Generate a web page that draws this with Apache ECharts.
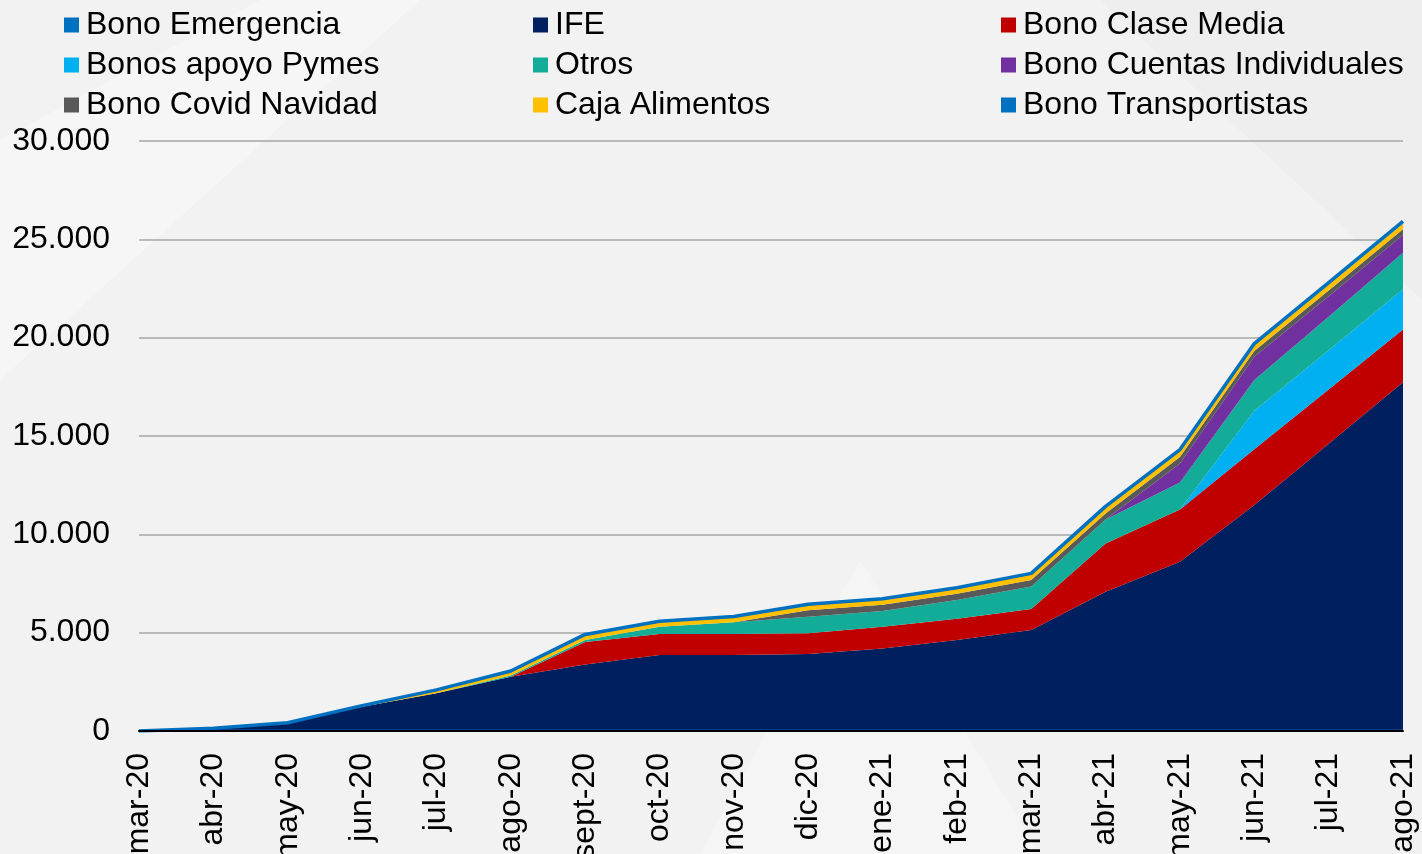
<!DOCTYPE html>
<html>
<head>
<meta charset="utf-8">
<script src="https://cdn.jsdelivr.net/npm/echarts@6/dist/echarts.min.js"></script>
<style>
  html, body { margin: 0; padding: 0; background: #f2f2f2; }
  #chart { width: 1422px; height: 854px; }
</style>
</head>
<body>
<div id="chart"></div>
<script>
// Gasto acumulado en ayudas COVID (millones US$), por mes
const months = ['mar-20','abr-20','may-20','jun-20','jul-20','ago-20','sept-20','oct-20','nov-20','dic-20',
                'ene-21','feb-21','mar-21','abr-21','may-21','jun-21','jul-21','ago-21'];

const bonoEmergencia     = [0, 60, 60, 60, 60, 60, 60, 60, 60, 60, 60, 60, 60, 60, 60, 60, 60, 60];
const ife                = [0, 80, 360, 1170, 1860, 2700, 3320, 3800, 3800, 3855, 4140, 4570, 5075, 7020, 8550, 11430, 14540, 17670];
const bonoClaseMedia     = [0, 0, 0, 0, 0, 0, 1150, 1070, 1070, 1060, 1100, 1080, 1070, 2460, 2650, 2830, 2760, 2690];
const bonosApoyoPymes    = [0, 0, 0, 0, 0, 0, 0, 0, 0, 0, 0, 0, 0, 0, 0, 1970, 2000, 2040];
const otros              = [0, 0, 0, 0, 0, 60, 100, 370, 600, 840, 800, 950, 1140, 1220, 1380, 1560, 1700, 1860];
const bonoCuentasInd     = [0, 0, 0, 0, 0, 0, 0, 0, 0, 0, 0, 0, 0, 0, 960, 1180, 1050, 900];
const bonoCovidNavidad   = [0, 0, 0, 0, 0, 0, 0, 0, 0, 330, 320, 320, 330, 300, 330, 290, 290, 290];
const cajaAlimentos      = [0, 0, 0, 60, 170, 230, 280, 280, 290, 300, 300, 300, 300, 300, 300, 300, 300, 300];
const bonoTransportistas = [0, 0, 0, 0, 0, 0, 0, 0, 0, 0, 0, 0, 40, 60, 80, 80, 100, 100];

const yTicks = { min: 0, max: 30000, interval: 5000 };

const FONT = 'Liberation Sans, Arial, sans-serif';
const FS = 32;

const layers = [
  { name: 'Bono Emergencia',            data: bonoEmergencia,     color: '#0070C0' },
  { name: 'IFE',                        data: ife,                color: '#001F5F' },
  { name: 'Bono Clase Media',           data: bonoClaseMedia,     color: '#C00000' },
  { name: 'Bonos apoyo Pymes',          data: bonosApoyoPymes,    color: '#00B0F0' },
  { name: 'Otros',                      data: otros,              color: '#12AC98' },
  { name: 'Bono Cuentas Individuales',  data: bonoCuentasInd,     color: '#7030A0' },
  { name: 'Bono Covid Navidad',         data: bonoCovidNavidad,   color: '#595959' },
  { name: 'Caja Alimentos',             data: cajaAlimentos,      color: '#FFC000' },
  { name: 'Bono Transportistas',        data: bonoTransportistas, color: '#0070C0' }
];

const series = layers.map((l, i) => ({
  name: l.name,
  type: 'line',
  stack: 'total',
  data: l.data,
  symbol: 'none',
  color: l.color,
  itemStyle: { color: l.color },
  areaStyle: { color: l.color, opacity: 1 },
  lineStyle: i === layers.length - 1
    ? { width: 3.5, color: l.color }
    : (i === 0 ? { width: 1, color: l.color } : { width: 0 }),
  emphasis: { disabled: true },
  z: 2 + i
}));

const legendText = { fontFamily: FONT, fontSize: FS, color: '#000', lineHeight: 32, padding: [0, 0, 0, 2] };
function legendCol(left, names) {
  return {
    orient: 'vertical', left: left, top: 9,
    data: names, icon: 'rect', itemWidth: 15, itemHeight: 15, itemGap: 8,
    textStyle: legendText, selectedMode: false, padding: 0
  };
}

const chart = echarts.init(document.getElementById('chart'), null, { renderer: 'canvas' });
chart.setOption({
  backgroundColor: '#f2f2f2',
  animation: false,
  graphic: [
    { type: 'polygon', silent: true, z: -10,
      shape: { points: [[0, 140], [260, 0], [420, 0], [0, 380]] },
      style: { fill: 'rgba(255,255,255,0.3)' } },
    { type: 'polygon', silent: true, z: -10,
      shape: { points: [[700, 854], [860, 560], [1040, 854]] },
      style: { fill: 'rgba(255,255,255,0.25)' } },
    { type: 'polygon', silent: true, z: -10,
      shape: { points: [[1100, 0], [1422, 0], [1422, 300]] },
      style: { fill: 'rgba(230,230,230,0.3)' } }
  ],
  legend: [
    legendCol(64,   ['Bono Emergencia', 'Bonos apoyo Pymes', 'Bono Covid Navidad']),
    legendCol(533,  ['IFE', 'Otros', 'Caja Alimentos']),
    legendCol(1001, ['Bono Clase Media', 'Bono Cuentas Individuales', 'Bono Transportistas'])
  ],
  grid: { left: 139, right: 19, top: 141, bottom: 123, containLabel: false, outerBoundsMode: 'none' },
  xAxis: {
    type: 'category',
    data: months,
    boundaryGap: false,
    axisLine: { show: true, lineStyle: { color: '#000', width: 2 } },
    axisTick: { show: false },
    axisLabel: {
      rotate: 90, interval: 0, margin: 22,
      fontFamily: FONT, fontSize: FS, color: '#000'
    },
    splitLine: { show: false },
    z: 20
  },
  yAxis: {
    type: 'value',
    min: yTicks.min, max: yTicks.max, interval: yTicks.interval,
    axisLine: { show: false },
    axisTick: { show: false },
    axisLabel: {
      margin: 29, fontFamily: FONT, fontSize: FS, color: '#000',
      formatter: v => v.toLocaleString('de-DE')
    },
    splitLine: { lineStyle: { color: '#a6a6a6', width: 1.5 } }
  },
  series: series
});
</script>
</body>
</html>
